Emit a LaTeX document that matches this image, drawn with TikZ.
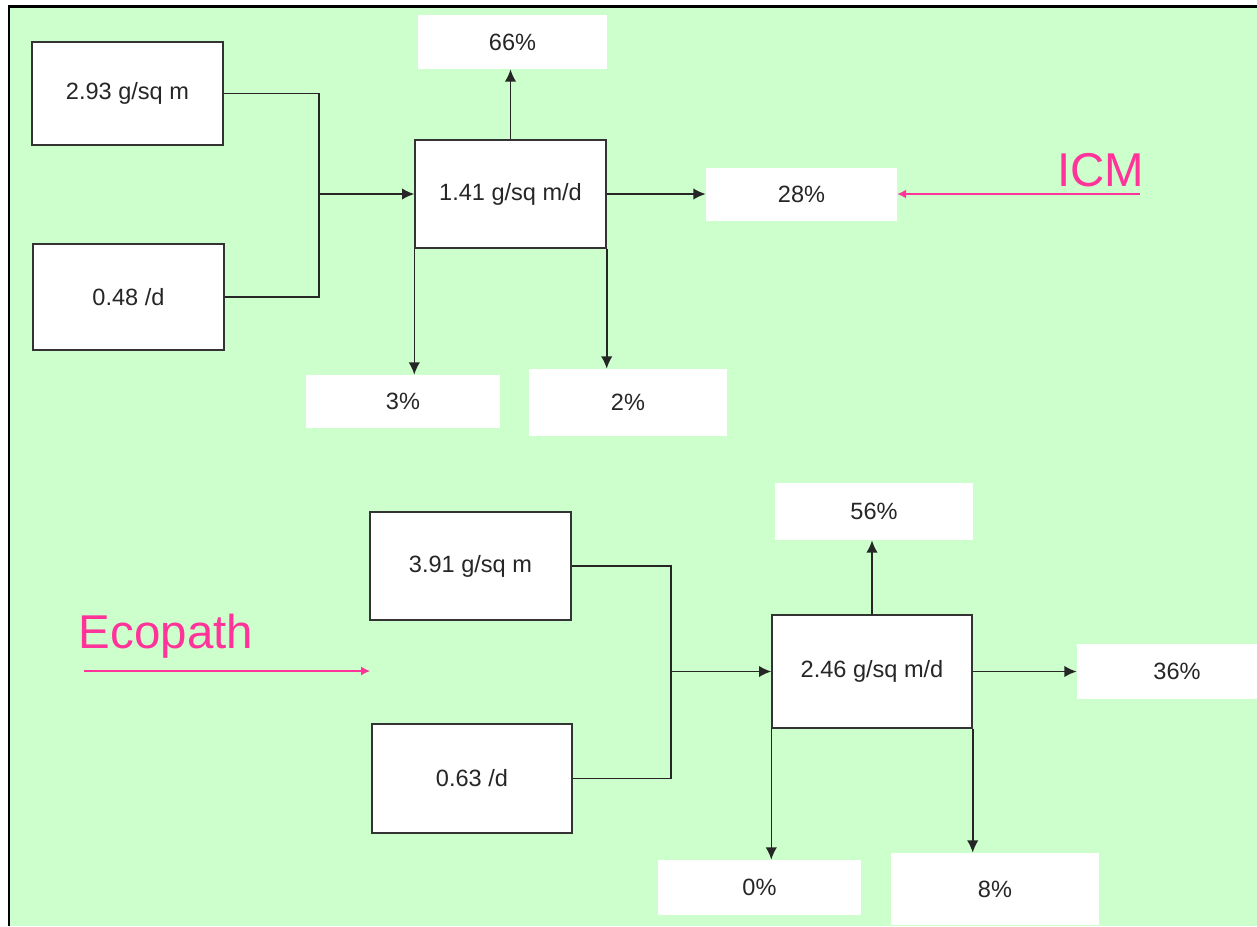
\documentclass[tikz,border=0pt]{standalone}
\usepackage{fontspec}
\setmainfont{Liberation Sans}
\usetikzlibrary{arrows.meta}

\definecolor{panelgreen}{RGB}{204,255,204}
\definecolor{labelpink}{RGB}{255,51,153}

\tikzset{
  pool/.style={draw=black!80, line width=0.8pt, fill=white, text=black!85,
    inner sep=0pt, font=\fontsize{13.4}{15}\selectfont},
  share/.style={fill=white, text=black!85, inner sep=0pt,
    font=\fontsize{13.4}{15}\selectfont},
  flow/.style={draw=black!85, line width=0.9pt},
  arr/.style={flow, -{Latex[length=7pt,width=6.5pt]}},
  model/.style={text=labelpink, font=\fontsize{27}{30}\selectfont},
  pointer/.style={draw=labelpink, line width=0.7pt, -{Latex[length=5pt,width=5pt]}}
}

\begin{document}
\begin{tikzpicture}

% Frame
\useasboundingbox (0,0) rectangle (25.14,-18.52);
\fill[white] (0,0) rectangle (25.14,-18.52);
\fill[panelgreen] (0.18,-0.12) rectangle (25.14,-18.52);
\draw[line width=1.7pt] (0.18,-18.52) -- (0.18,-0.12) -- (25.14,-0.12);

% ICM nodes
\path
(2.55,-1.87) node[pool, minimum width=3.82cm, minimum height=2.06cm] (biomass1) {2.93 g/sq m}
(2.57,-5.94) node[pool, minimum width=3.82cm, minimum height=2.12cm] (rate1) {0.48 /d}
(10.21,-3.88) node[pool, minimum width=3.82cm, minimum height=2.16cm] (prod1) {1.41 g/sq m/d}
(10.25,-0.84) node[share, minimum width=3.78cm, minimum height=1.08cm] (up1) {66\%}
(16.03,-3.88) node[share, minimum width=3.82cm, minimum height=1.06cm] (right1) {28\%}
(8.06,-8.03) node[share, minimum width=3.88cm, minimum height=1.06cm] (left1) {3\%}
(12.56,-8.05) node[share, minimum width=3.96cm, minimum height=1.34cm] (down1) {2\%}
(22.02,-3.40) node[model] (icm) {ICM}
(6.38,-3.88) coordinate (join1)
(22.80,-3.88) coordinate (icmtail)
;

% Ecopath nodes
\path
(9.41,-11.32) node[pool, minimum width=4.02cm, minimum height=2.16cm] (biomass2) {3.91 g/sq m}
(9.44,-15.57) node[pool, minimum width=4.00cm, minimum height=2.18cm] (rate2) {0.63 /d}
(17.44,-13.43) node[pool, minimum width=4.00cm, minimum height=2.26cm] (prod2) {2.46 g/sq m/d}
(17.48,-10.23) node[share, minimum width=3.96cm, minimum height=1.14cm] (up2) {56\%}
(23.54,-13.43) node[share, minimum width=4.00cm, minimum height=1.10cm] (right2) {36\%}
(15.19,-17.75) node[share, minimum width=4.06cm, minimum height=1.10cm] (left2) {0\%}
(19.90,-17.78) node[share, minimum width=4.16cm, minimum height=1.44cm] (down2) {8\%}
(3.32,-12.72) node[model] (ecopath) {Ecopath}
(13.42,-13.43) coordinate (join2)
(1.68,-13.42) coordinate (ecotail)
(7.40,-13.42) coordinate (ecohead)
;

% ICM flows
\draw[flow] (biomass1.east) -| (join1) |- (rate1.east);
\draw[arr] (join1) -- (prod1.west);
\draw[arr] (prod1.north) -- (prod1.north |- up1.south);
\draw[arr] (prod1.east) -- (right1.west);
\draw[arr] (prod1.south west) -- (prod1.south west |- left1.north);
\draw[arr] (prod1.south east) -- (prod1.south east |- down1.north);
\draw[pointer] (icmtail) -- (right1.east);

% Ecopath flows
\draw[flow] (biomass2.east) -| (join2) |- (rate2.east);
\draw[arr] (join2) -- (prod2.west);
\draw[arr] (prod2.north) -- (prod2.north |- up2.south);
\draw[arr] (prod2.east) -- (right2.west);
\draw[arr] (prod2.south west) -- (prod2.south west |- left2.north);
\draw[arr] (prod2.south east) -- (prod2.south east |- down2.north);
\draw[pointer] (ecotail) -- (ecohead);

\end{tikzpicture}
\end{document}
